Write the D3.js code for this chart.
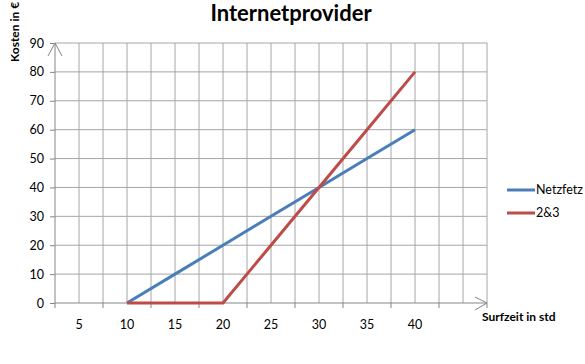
<!DOCTYPE html>
<html>
<head>
<meta charset="utf-8">
<script src="https://cdn.jsdelivr.net/npm/d3@7"></script>
<style>
  body { margin: 0; background: #fff; }
  text { font-family: Lato, "Open Sans", sans-serif; }
</style>
</head>
<body>
<div id="chart"></div>
<script>
// data
var categories = ["5", "10", "15", "20", "25", "30", "35", "40", ""];
var netzfetz   = [null, 0, 10, 20, 30, 40, 50, 60, null];
var zweiDrei   = [null, 0, 0, 0, 20, 40, 60, 80, null];
var yTicks     = [0, 10, 20, 30, 40, 50, 60, 70, 80, 90];
var seriesNames = ["Netzfetz", "2&3"];
var seriesColors = ["#4a7ebb", "#be4b48"];

var width = 585, height = 364;
var margin = { top: 43, right: 98, bottom: 61, left: 55 };
var w = width - margin.left - margin.right,
    h = height - margin.top - margin.bottom;

var svg = d3.select("#chart").append("svg")
    .attr("width", width)
    .attr("height", height);

var g = svg.append("g")
    .attr("transform", "translate(" + margin.left + "," + margin.top + ")");

// scales
var x = d3.scaleBand().domain(categories).range([0, w]).padding(0);
var y = d3.scaleLinear().domain([0, 90]).range([h, 0]);
var cx = function(c) { return x(c) + x.bandwidth() / 2; };

// gridlines
var vLines = [];
categories.forEach(function(c) { vLines.push(x(c)); vLines.push(cx(c)); });
vLines.push(w);

g.selectAll(".vgrid").data(vLines.slice(1)).enter().append("line")
    .attr("class", "vgrid")
    .attr("x1", function(d) { return d; }).attr("x2", function(d) { return d; })
    .attr("y1", 0).attr("y2", h)
    .attr("stroke", "#a6a6a6").attr("stroke-width", 1);

g.selectAll(".hgrid").data(yTicks.slice(1)).enter().append("line")
    .attr("class", "hgrid")
    .attr("x1", 0).attr("x2", w)
    .attr("y1", function(d) { return y(d); }).attr("y2", function(d) { return y(d); })
    .attr("stroke", "#a6a6a6").attr("stroke-width", 1);

// y axis
var yAxis = d3.axisLeft(y).tickValues(yTicks).tickSize(5).tickPadding(6);
var yG = g.append("g").call(yAxis);
yG.select(".domain").remove();
yG.selectAll(".tick line").attr("stroke", "#868686");
yG.selectAll(".tick text").attr("font-size", "12.5px").attr("fill", "#000");

// x axis: ticks at category boundaries, labels at centers
var xG = g.append("g").attr("transform", "translate(0," + h + ")");
xG.selectAll(".xtick").data(categories.map(function(c) { return x(c); }).concat([w])).enter()
    .append("line")
    .attr("x1", function(d) { return d; }).attr("x2", function(d) { return d; })
    .attr("y1", 0).attr("y2", 5)
    .attr("stroke", "#868686");
xG.selectAll(".xlabel").data(categories).enter().append("text")
    .attr("x", function(d) { return cx(d); })
    .attr("y", 26)
    .attr("text-anchor", "middle")
    .attr("font-size", "12.5px")
    .text(function(d) { return d; });

// axis lines with open arrow heads
var axisColor = "#868686";
g.append("line").attr("x1", 0).attr("x2", 0).attr("y1", h).attr("y2", 0)
    .attr("stroke", axisColor);
g.append("path").attr("d", "M-7,13L0,0L7,13")
    .attr("fill", "none").attr("stroke", axisColor);
g.append("line").attr("x1", 0).attr("x2", w).attr("y1", h).attr("y2", h)
    .attr("stroke", axisColor);
g.append("path").attr("d", "M" + (w - 12) + "," + (h - 6) + "L" + w + "," + h + "L" + (w - 12) + "," + (h + 7))
    .attr("fill", "none").attr("stroke", axisColor);

// lines
var line = d3.line()
    .defined(function(d) { return d.v != null; })
    .x(function(d) { return cx(d.c); })
    .y(function(d) { return y(d.v); });

[netzfetz, zweiDrei].forEach(function(values, i) {
    var pts = categories.map(function(c, j) { return { c: c, v: values[j] }; });
    g.append("path").datum(pts)
        .attr("d", line)
        .attr("fill", "none")
        .attr("stroke", seriesColors[i])
        .attr("stroke-width", 3)
        .attr("stroke-linejoin", "round");
});

// title
svg.append("text")
    .attr("x", 291).attr("y", 21)
    .attr("text-anchor", "middle")
    .attr("font-size", "22px").attr("font-weight", "bold")
    .text("Internetprovider");

// axis titles
svg.append("text")
    .attr("transform", "translate(19,62) rotate(-90)")
    .attr("font-size", "12px").attr("font-weight", "bold")
    .text("Kosten in €");

svg.append("text")
    .attr("x", 482).attr("y", 321)
    .attr("font-size", "12px").attr("font-weight", "bold")
    .text("Surfzeit in std");

// legend
var legend = svg.append("g").attr("transform", "translate(507,190)");
seriesNames.forEach(function(name, i) {
    var row = legend.append("g").attr("transform", "translate(0," + (i * 23) + ")");
    row.append("line").attr("x1", 0).attr("x2", 28).attr("y1", 0).attr("y2", 0)
        .attr("stroke", seriesColors[i]).attr("stroke-width", 3);
    row.append("text").attr("x", 29).attr("y", 4)
        .attr("font-size", "12.5px")
        .text(name);
});
</script>
</body>
</html>
